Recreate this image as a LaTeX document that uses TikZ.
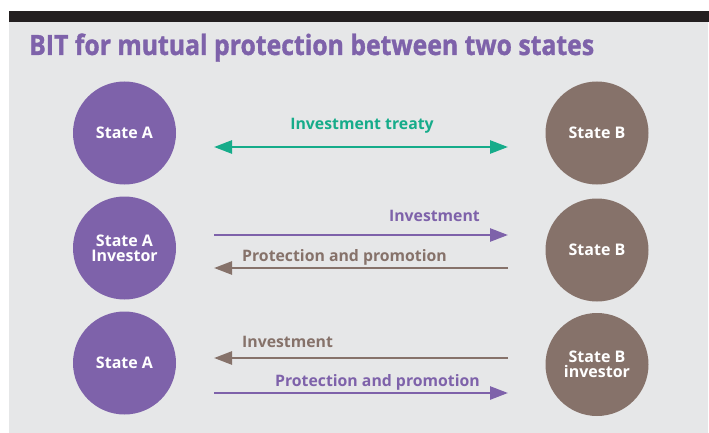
\documentclass[tikz,border=0pt]{standalone}
\usepackage{fontspec}
\setmainfont{Open Sans}
\newfontfamily\titlefont{Open Sans}[FakeStretch=0.885, FakeBold=1.2]
\usepackage{tikz}
\usetikzlibrary{positioning,arrows.meta}

\definecolor{bitpurple}{RGB}{126,98,170}
\definecolor{bitbrown}{RGB}{134,114,106}
\definecolor{bitteal}{RGB}{22,172,138}
\definecolor{bitgray}{RGB}{230,231,232}
\definecolor{bitbar}{RGB}{35,31,32}

\tikzset{
  party/.style={circle, minimum size=103pt, inner sep=0pt, text=white, align=center,
    font=\bfseries\fontsize{16}{15}\selectfont},
  partyA/.style={party, fill=bitpurple},
  partyB/.style={party, fill=bitbrown},
  flow/.style={line width=2.6pt, -{Triangle[length=18pt,width=13pt]}},
  duo/.style={line width=2.6pt, {Triangle[length=18pt,width=13pt]}-{Triangle[length=18pt,width=13pt]}},
  flowlabel/.style={inner sep=0pt, font=\bfseries\fontsize{15.8}{18}\selectfont}
}

\begin{document}
\begin{tikzpicture}[x=1pt,y=-1pt]
\useasboundingbox (0,0) rectangle (709,433);
\fill[bitgray] (9,22) rectangle (708,433);
\fill[bitbar] (9,11) rectangle (709,22);
\node[anchor=base west, inner sep=0pt, text=bitpurple,
  font=\titlefont\bfseries\fontsize{28}{30}\selectfont] (title) at (29,55)
  {BIT for mutual protection between two states};

% row 1
\node[partyA] (stateA1) at (124.5,133) {State A};
\node[partyB] (stateB1) at (597,133) {State B};
\coordinate (treatyL) at (214,147);
\coordinate (treatyR) at (508,147);
\draw[duo, bitteal] (treatyL) -- (treatyR);
\node[flowlabel, anchor=base, text=bitteal] (treaty) at (362,130) {Investment treaty};

% row 2
\node[partyA] (stateA2) at (124.5,248) {State A\\Investor};
\node[partyB] (stateB2) at (597,250) {State B};
\coordinate (invL2) at (214,235);
\coordinate (invR2) at (508,235);
\coordinate (proL2) at (214,268);
\coordinate (proR2) at (508,268);
\draw[flow, bitpurple] (invL2) -- (invR2);
\draw[flow, bitbrown] (proR2) -- (proL2);
\node[flowlabel, anchor=base east, text=bitpurple] (inv2) at (480,221) {Investment};
\node[flowlabel, anchor=base west, text=bitbrown] (pro2) at (242,261) {Protection and promotion};

% row 3
\node[partyA] (stateA3) at (124.5,363) {State A};
\node[partyB] (stateB3) at (597,364.5) {State B\\investor};
\coordinate (invL3) at (214,358);
\coordinate (invR3) at (508,358);
\coordinate (proL3) at (214,393);
\coordinate (proR3) at (508,393);
\draw[flow, bitbrown] (invR3) -- (invL3);
\draw[flow, bitpurple] (proL3) -- (proR3);
\node[flowlabel, anchor=base west, text=bitbrown] (inv3) at (242,347) {Investment};
\node[flowlabel, anchor=base east, text=bitpurple] (pro3) at (480,386) {Protection and promotion};
\end{tikzpicture}
\end{document}
